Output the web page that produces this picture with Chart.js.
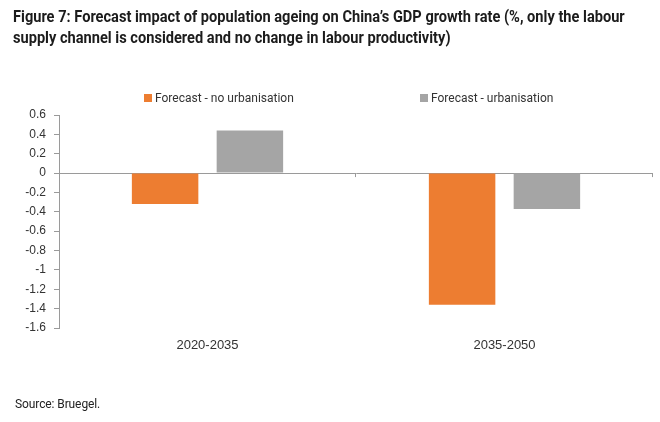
<!DOCTYPE html>
<html>
<head>
<meta charset="utf-8">
<script src="https://cdn.jsdelivr.net/npm/chart.js@4"></script>
<style>
  body { margin: 0; background: #fff; }
  #wrap { position: relative; width: 660px; height: 422px; overflow: hidden; }
  #chart { position: absolute; left: 0; top: 0; }
  .title {
    position: absolute; left: 13px; top: 6px; width: 720px;
    font: bold 16px "Roboto", sans-serif;
    line-height: 21px; color: #1c1c1c; white-space: nowrap;
    transform: scaleX(0.913); transform-origin: 0 0;
  }
  .legend-item {
    position: absolute; top: 91px;
    font: 12px "Roboto", sans-serif;
    color: #333; line-height: 14px; white-space: nowrap;
  }
  .legend-item i {
    display: inline-block; width: 8px; height: 8px; margin-right: 3px; vertical-align: 0px;
  }
  .source {
    position: absolute; left: 15px; top: 397px;
    font: 12px "Roboto", sans-serif; color: #222; letter-spacing: -0.1px;
  }
</style>
</head>
<body>
<div id="wrap">
  <canvas id="chart" width="660" height="422"></canvas>
  <div class="title">Figure 7: Forecast impact of population ageing on China’s GDP growth rate (%, only the labour<br>supply channel is considered and no change in labour productivity)</div>
  <div class="legend-item" style="left:144px"><i style="background:#ED7D31"></i>Forecast - no urbanisation</div>
  <div class="legend-item" style="left:420px"><i style="background:#A5A5A5"></i>Forecast - urbanisation</div>
  <div class="source">Source: Bruegel.</div>
</div>
<script>
const categories = ["2020-2035", "2035-2050"];
const noUrbanisation = [-0.32, -1.36];
const urbanisation = [0.44, -0.37];
const yMin = -1.6;
const yMax = 0.6;
const yStep = 0.2;

const COLORS = {
  orange: "#ED7D31",
  gray: "#A5A5A5",
  axis: "#9a9a9a",
  text: "#333333"
};

// small tick marks on the zero line between categories
const zeroTicks = {
  id: "zeroTicks",
  afterDatasetsDraw: function (chart) {
    const x = chart.scales.x;
    const y = chart.scales.y;
    const zero = y.getPixelForValue(0);
    const ctx = chart.ctx;
    ctx.save();
    ctx.strokeStyle = COLORS.axis;
    ctx.lineWidth = 1;
    for (let i = 1; i <= categories.length; i++) {
      const px = Math.round(x.left + i * x.width / categories.length) - 0.5;
      ctx.beginPath();
      ctx.moveTo(px, zero);
      ctx.lineTo(px, zero + 4);
      ctx.stroke();
    }
    ctx.restore();
  }
};

new Chart(document.getElementById("chart"), {
  type: "bar",
  data: {
    labels: categories,
    datasets: [{
      label: "Forecast - no urbanisation",
      data: noUrbanisation,
      backgroundColor: COLORS.orange,
      categoryPercentage: 0.571,
      barPercentage: 0.784
    }, {
      label: "Forecast - urbanisation",
      data: urbanisation,
      backgroundColor: COLORS.gray,
      categoryPercentage: 0.571,
      barPercentage: 0.784
    }]
  },
  options: {
    responsive: false,
    animation: false,
    events: [],
    layout: {
      padding: { top: 115, right: 7, bottom: 64, left: 0 }
    },
    plugins: {
      legend: { display: false },
      tooltip: { enabled: false }
    },
    scales: {
      x: {
        grid: { display: false, drawTicks: false },
        border: { display: false },
        ticks: {
          color: COLORS.text,
          padding: 10,
          font: { family: "Liberation Sans", size: 13 }
        },
        afterFit: function (scale) {
          scale.height = 30;
        }
      },
      y: {
        min: yMin,
        max: yMax,
        border: { display: true, color: COLORS.axis },
        grid: {
          drawOnChartArea: true,
          tickLength: 5,
          tickColor: COLORS.axis,
          color: function (context) {
            return context.tick && context.tick.value === 0 ? COLORS.axis : "rgba(0,0,0,0)";
          }
        },
        ticks: {
          stepSize: yStep,
          color: COLORS.text,
          padding: 8,
          font: { family: "Liberation Sans", size: 12 },
          callback: function (value) {
            return String(Math.round(value * 10) / 10);
          }
        },
        afterFit: function (scale) {
          scale.width = 59;
        }
      }
    }
  },
  plugins: [zeroTicks]
});
</script>
</body>
</html>
